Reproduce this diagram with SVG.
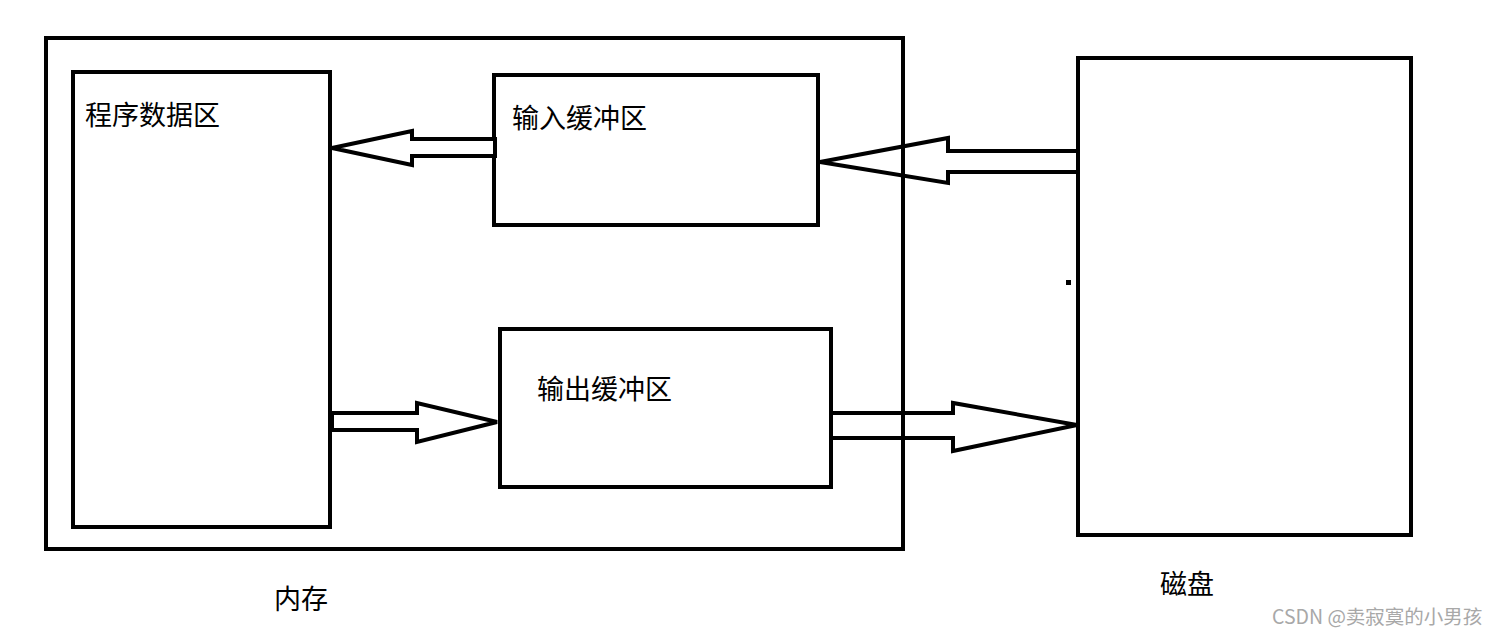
<svg xmlns="http://www.w3.org/2000/svg" width="1498" height="635" viewBox="0 0 1498 635">
<style>
.box{fill:none;stroke:#000;stroke-width:4}
.arr{fill:#fff;stroke:#000;stroke-width:4;stroke-linejoin:miter}
.lbl{font-family:"Noto Sans CJK SC","Liberation Sans",sans-serif;font-size:27px;fill:#000}
.wm{font-family:"Noto Sans CJK SC","Liberation Sans",sans-serif;font-size:19.5px;fill:#a8a8a8}
</style>
<rect width="1498" height="635" fill="#fff"/>
<g id="memory">
<rect class="box" x="46" y="38" width="857" height="511"/>
<text class="lbl" x="274" y="609">内存</text>
</g>
<g id="program-data">
<rect class="box" x="73" y="72" width="257" height="455"/>
<text class="lbl" x="85" y="125">程序数据区</text>
</g>
<g id="input-buffer">
<rect class="box" x="494" y="75" width="324" height="150"/>
<text class="lbl" x="512" y="128">输入缓冲区</text>
</g>
<g id="output-buffer">
<rect class="box" x="500" y="329" width="331" height="158"/>
<text class="lbl" x="537" y="399">输出缓冲区</text>
</g>
<g id="disk">
<rect class="box" x="1078" y="58" width="333" height="477"/>
<rect x="1066" y="280" width="5" height="5" fill="#000"/>
<text class="lbl" x="1160" y="594">磁盘</text>
</g>
<g id="connectors">
<polygon class="arr" points="495,139 412,139 412,131 332,148 412,165 412,156 495,156"/>
<polygon class="arr" points="1078,151 948,151 948,138 820,162 948,183 948,172 1078,172"/>
<polygon class="arr" points="332,413 417,413 417,403 497,422 417,442 417,430 332,430"/>
<polygon class="arr" points="831,413 953,413 953,403 1077,425 953,451 953,438 831,438"/>
<line x1="903" y1="130" x2="903" y2="190" stroke="#000" stroke-width="4"/>
<line x1="903" y1="400" x2="903" y2="455" stroke="#000" stroke-width="4"/>
</g>
<text class="wm" x="1272" y="624">CSDN @卖寂寞的小男孩</text>
</svg>
